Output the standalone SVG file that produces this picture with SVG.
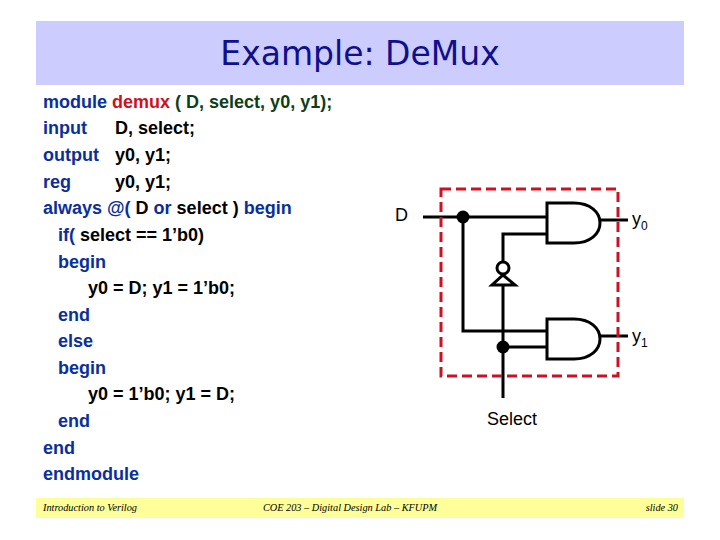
<svg xmlns="http://www.w3.org/2000/svg" width="720" height="540" viewBox="0 0 720 540">
<style>
.c{font:bold 18px "Liberation Sans",Arial,sans-serif;fill:#000;white-space:pre}
.k{fill:#0a2f9c}.r{fill:#d0101c}.g{fill:#0f3d1a}
.f{font:italic 10.3px "Liberation Serif",serif;fill:#000}
.l{font:18px "Liberation Sans",Arial,sans-serif;fill:#000}
.s{font-size:12px}
.w{fill:none;stroke:#000;stroke-width:3}
.gate{fill:#fff;stroke:#000;stroke-width:3}
</style>
<rect width="720" height="540" fill="#fff"/>
<rect id="title-bar" x="36" y="21" width="648" height="64" fill="#ccccff"/>
<text x="360" y="65" text-anchor="middle" font-family="'DejaVu Sans',sans-serif" font-size="33" fill="#10108c">Example: DeMux</text>
<g id="code">
<text class="c" x="43" y="108"><tspan class="k">module</tspan> <tspan class="r">demux</tspan> <tspan class="g">( D, select, y0, y1);</tspan></text>
<text class="c" x="43" y="134"><tspan class="k">input</tspan></text><text class="c" x="115" y="134">D, select;</text>
<text class="c" x="43" y="161"><tspan class="k">output</tspan></text><text class="c" x="115" y="161">y0, y1;</text>
<text class="c" x="43" y="188"><tspan class="k">reg</tspan></text><text class="c" x="115" y="188">y0, y1;</text>
<text class="c" x="43" y="214"><tspan class="k">always @(</tspan> D <tspan class="k">or</tspan> select ) <tspan class="k">begin</tspan></text>
<text class="c" x="58" y="241"><tspan class="k">if(</tspan> select == 1’b0)</text>
<text class="c k" x="58" y="268">begin</text>
<text class="c" x="88" y="294">y0 = D; y1 = 1’b0;</text>
<text class="c k" x="58" y="321">end</text>
<text class="c k" x="58" y="347">else</text>
<text class="c k" x="58" y="374">begin</text>
<text class="c" x="88" y="400">y0 = 1’b0; y1 = D;</text>
<text class="c k" x="58" y="427">end</text>
<text class="c k" x="43" y="454">end</text>
<text class="c k" x="43" y="480">endmodule</text>
</g>
<g id="footer">
<rect x="36" y="498" width="648" height="20" fill="#ffff99"/>
<text class="f" x="43" y="511">Introduction to Verilog</text>
<text class="f" x="350" y="511" text-anchor="middle">COE 203 – Digital Design Lab – KFUPM</text>
<text class="f" x="678" y="511" text-anchor="end">slide 30</text>
</g>
<g id="connectors">
<path class="w" d="M423 217H547M463 217V331H547M547 234H503V262M503 285V398M503 347H547M598 220H628M598 336H628"/>
</g>
<g id="and-gate-0"><path class="gate" d="M547 203H574C590 203 600 212 600 223C600 234 590 243 574 243H547Z"/></g>
<g id="and-gate-1"><path class="gate" d="M547 319H574C590 319 600 328 600 339C600 350 590 359 574 359H547Z"/></g>
<g id="inverter"><path class="gate" d="M503 275L515 285H492Z"/><circle class="gate" cx="503" cy="268" r="6"/></g>
<g id="junction-d"><circle cx="463" cy="217" r="6.5"/></g>
<g id="junction-select"><circle cx="503" cy="347" r="6.5"/></g>
<rect id="boundary" x="441" y="189" width="177" height="187" fill="none" stroke="#cc1122" stroke-width="3" stroke-dasharray="10 5"/>
<g id="labels">
<text class="l" x="395" y="221">D</text>
<text class="l" x="632" y="225">y<tspan class="s" dy="5">0</tspan></text>
<text class="l" x="632" y="342">y<tspan class="s" dy="5">1</tspan></text>
<text class="l" x="487" y="425">Select</text>
</g>
</svg>
